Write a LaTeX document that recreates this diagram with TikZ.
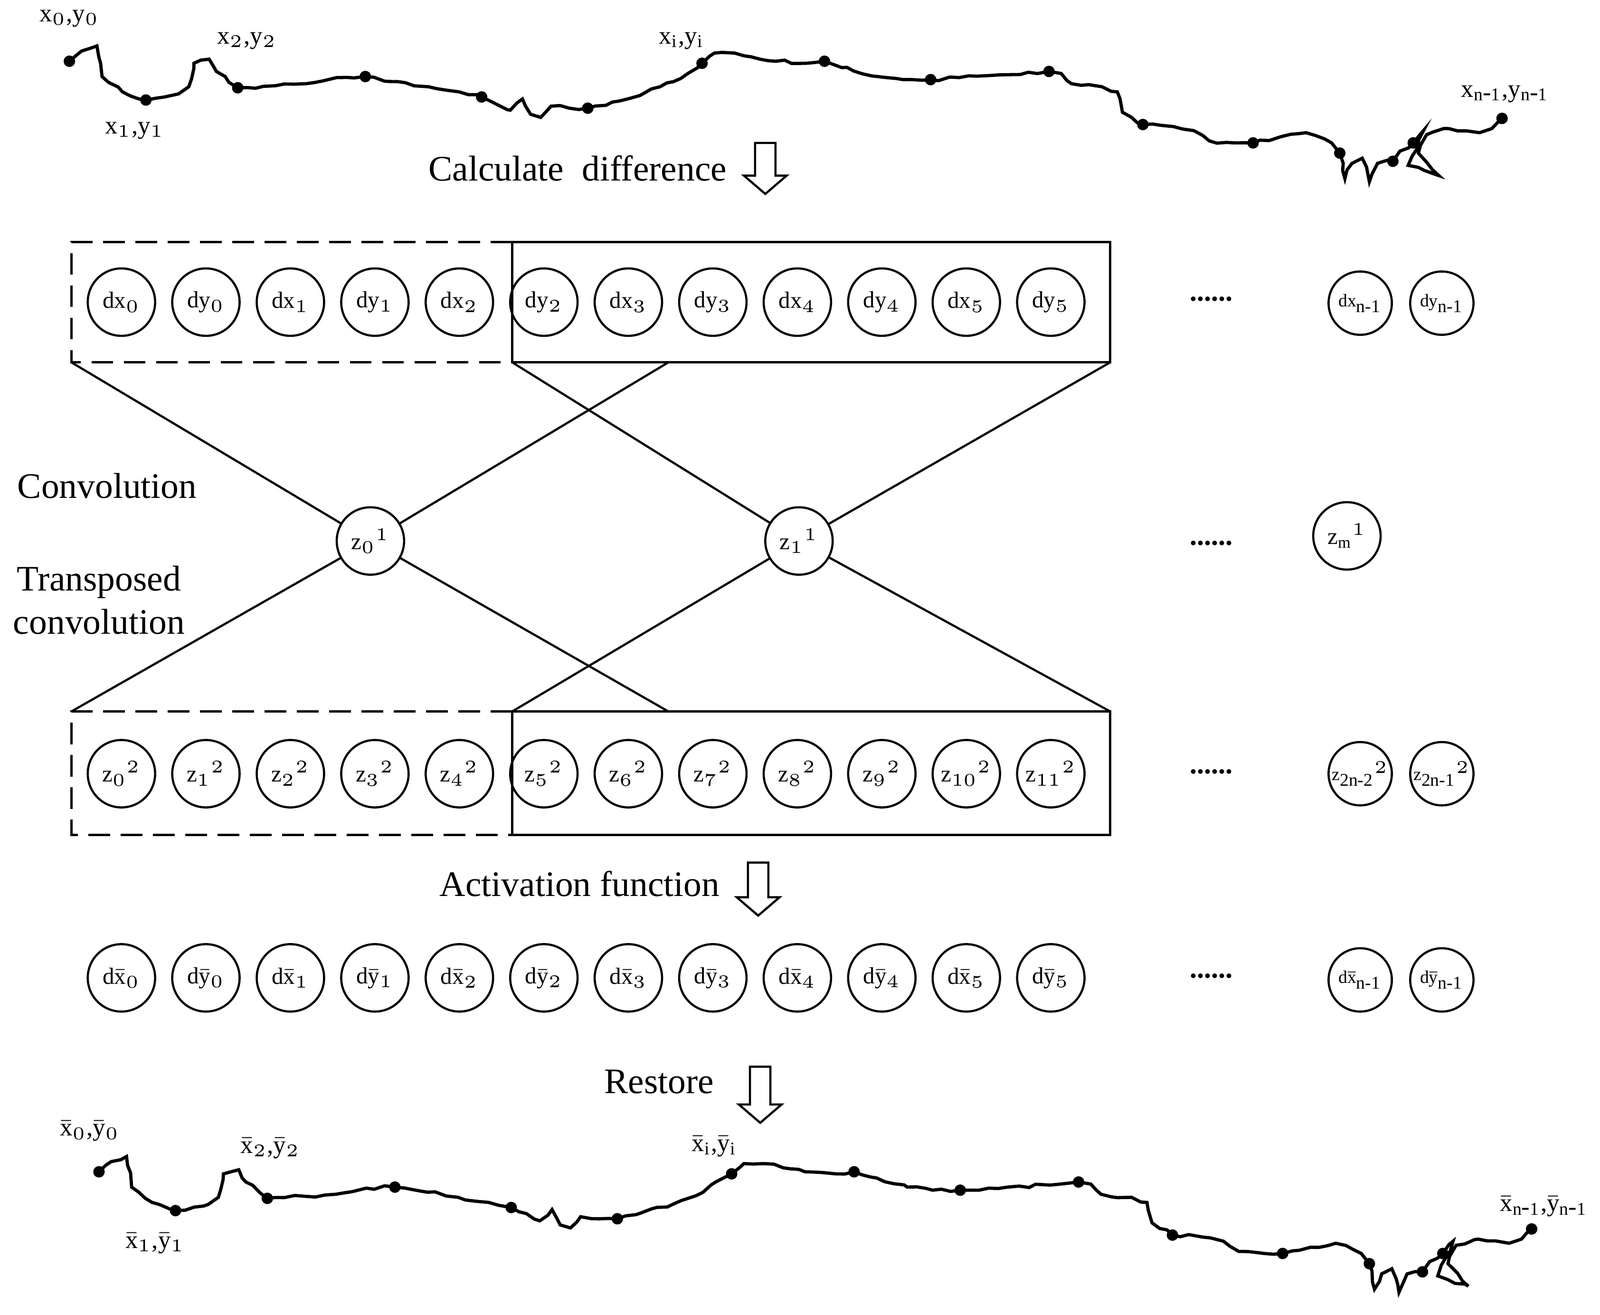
\documentclass[tikz,border=0pt]{standalone}
\usepackage{fontspec}
\setmainfont{Liberation Serif}
\usetikzlibrary{decorations.pathmorphing}
\newcommand\hy{\mbox{-}}
\begin{document}
\begin{tikzpicture}[x=0.01cm,y=-0.01cm,
  cell/.style={circle,draw,line width=0.6pt,minimum size=0.66cm,inner sep=0pt,font=\fontsize{6.5}{7}\selectfont},
  smallcell/.style={circle,draw,line width=0.6pt,minimum size=0.62cm,inner sep=0pt,font=\fontsize{5}{6}\selectfont},
  big/.style={font=\fontsize{10}{12}\selectfont},
  lab/.style={font=\fontsize{7}{8}\selectfont},
  conn/.style={line width=0.6pt},
  frame/.style={line width=0.7pt},
  dfr/.style={line width=0.7pt,dash pattern=on 6pt off 3pt},
  arr/.style={draw,line width=0.6pt,fill=white},
  curve/.style={line width=0.9pt,decorate,decoration={random steps,segment length=2.5pt,amplitude=0.5pt}},
  pt/.style={circle,fill,inner sep=0pt,minimum size=3.2pt}]
\useasboundingbox (0,0) rectangle (1568,1288);
\newcommand\hollowarrow[3]{\draw[arr] (#1-10,#2) -- (#1+10,#2) -- (#1+10,#3-18) -- (#1+21,#3-18) -- (#1,#3) -- (#1-21,#3-18) -- (#1-10,#3-18) -- cycle;}
% curves
\foreach \sx/\sy/\nm in {0/0/t,29/1088/b}{
\begin{scope}[shift={(\sx,\sy)}]
\draw[curve] (68,60)--(80,50)--(95,45)--(100,75)--(120,90)--(143,98)--(175,92)--(185,85)--(190,62)--(205,58)--(212,70)--(233,86)--(270,84)--(300,82)--(330,76)--(358,75)--(390,80)--(420,85)--(450,90)--(472,95)--(500,108)--(512,97)--(520,112)--(530,115)--(540,104)--(558,106)--(576,106)--(600,100)--(630,92)--(660,80)--(688,62)--(700,52)--(720,52)--(760,60)--(790,62)--(808,60)--(830,66)--(860,75)--(885,78)--(912,78)--(940,76)--(970,74)--(1000,73)--(1028,70)--(1040,72)--(1050,82)--(1080,85)--(1095,90)--(1100,110)--(1120,122)--(1150,124)--(1170,128)--(1185,138)--(1210,140)--(1228,140)--(1255,134)--(1280,130)--(1305,140)--(1313,150)--(1318,175)--(1325,160)--(1335,155)--(1342,178)--(1350,160)--(1365,158)--(1372,148)--(1385,140)--(1395,128)--(1380,162)--(1410,172)--(1390,150)--(1398,132)--(1420,126)--(1450,130)--(1462,126)--(1472,116);
\foreach \px/\py [count=\k] in {68/60,143/98,233/86,358/75,472/95,576/106,688/62,808/60,912/78,1028/70,1120/122,1228/140,1313/150,1365/158,1385/140,1472/116}
  \node[pt] (\nm p\k) at (\px,\py) {};
\end{scope}}
\node[lab] (l1) at (68,18) {x$_0$,y$_0$};
\node[lab] (l2) at (242,40) {x$_2$,y$_2$};
\node[lab] (l3) at (132,128) {x$_1$,y$_1$};
\node[lab] (l4) at (668,40) {x$_\mathrm{i}$,y$_\mathrm{i}$};
\node[lab] (l5) at (1475,92) {x$_\mathrm{n\hy1}$,y$_\mathrm{n\hy1}$};
\node[lab] (m1) at (88,1108) {$\bar{\mathrm{x}}_0$,$\bar{\mathrm{y}}_0$};
\node[lab] (m2) at (265,1125) {$\bar{\mathrm{x}}_2$,$\bar{\mathrm{y}}_2$};
\node[lab] (m3) at (152,1218) {$\bar{\mathrm{x}}_1$,$\bar{\mathrm{y}}_1$};
\node[lab] (m4) at (700,1123) {$\bar{\mathrm{x}}_\mathrm{i}$,$\bar{\mathrm{y}}_\mathrm{i}$};
\node[lab] (m5) at (1513,1182) {$\bar{\mathrm{x}}_\mathrm{n\hy1}$,$\bar{\mathrm{y}}_\mathrm{n\hy1}$};
% titles
\node[big] (t1) at (566,165) {Calculate\ \ difference};
\hollowarrow{750}{140}{190}
\node[big] (t2) at (568,866) {Activation function};
\hollowarrow{743}{845}{897}
\node[big] (t3) at (646,1060) {Restore};
\hollowarrow{745}{1045}{1100}
\node[big] (t4) at (105,476) {Convolution};
\node[big,align=center] (t5) at (97,588) {Transposed\\convolution};
% frames
\draw[dfr] (502,237) -- (70,237) -- (70,355) -- (502,355);
\draw[frame] (502,237) rectangle (1088,355);
\draw[dfr] (502,697) -- (70,697) -- (70,818) -- (502,818);
\draw[frame] (502,697) rectangle (1088,818);
\coordinate (a1) at (70,355); \coordinate (a2) at (502,355);
\coordinate (a3) at (655,355); \coordinate (a4) at (1088,355);
\coordinate (b1) at (70,697); \coordinate (b2) at (502,697);
\coordinate (b3) at (655,697); \coordinate (b4) at (1088,697);
% z nodes
\node[cell] (z0) at (363,530) {z$_0$$^1$};
\node[cell] (z1) at (783,530) {z$_1$$^1$};
\node[cell] (zm) at (1320,525) {z$_\mathrm{m}$$^1$};
\draw[conn] (a1) -- (z0); \draw[conn] (a3) -- (z0);
\draw[conn] (a2) -- (z1); \draw[conn] (a4) -- (z1);
\draw[conn] (z0) -- (b1); \draw[conn] (z0) -- (b3);
\draw[conn] (z1) -- (b2); \draw[conn] (z1) -- (b4);
% rows
\foreach \t [count=\k] in {dx$_0$,dy$_0$,dx$_1$,dy$_1$,dx$_2$,dy$_2$,dx$_3$,dy$_3$,dx$_4$,dy$_4$,dx$_5$,dy$_5$}
  \node[cell] (r\k) at ({119+(\k-1)*82.8},296) {\t};
\node[smallcell] (rn1) at (1333,297) {dx$_\mathrm{n\hy1}$};
\node[smallcell] (rn2) at (1413,297) {dy$_\mathrm{n\hy1}$};
\foreach \k in {0,...,11}
  \node[cell] (s\k) at ({119+\k*82.8},758) {z$_{\k}$$^2$};
\node[smallcell] (sn1) at (1333,758) {z$_\mathrm{2n\hy2}$$^2$};
\node[smallcell] (sn2) at (1413,758) {z$_\mathrm{2n\hy1}$$^2$};
\foreach \k in {0,...,5}{
  \node[cell] (ux\k) at ({119+2*\k*82.8},958) {d$\bar{\mathrm{x}}_{\k}$};
  \node[cell] (uy\k) at ({119+(2*\k+1)*82.8},958) {d$\bar{\mathrm{y}}_{\k}$};}
\node[smallcell] (un1) at (1333,960) {d$\bar{\mathrm{x}}_\mathrm{n\hy1}$};
\node[smallcell] (un2) at (1413,960) {d$\bar{\mathrm{y}}_\mathrm{n\hy1}$};
\foreach \y [count=\k] in {293,532,756,956}
  \node[font=\fontsize{8}{9}\selectfont\bfseries] (dots\k) at (1187,\y) {......};
\end{tikzpicture}
\end{document}
